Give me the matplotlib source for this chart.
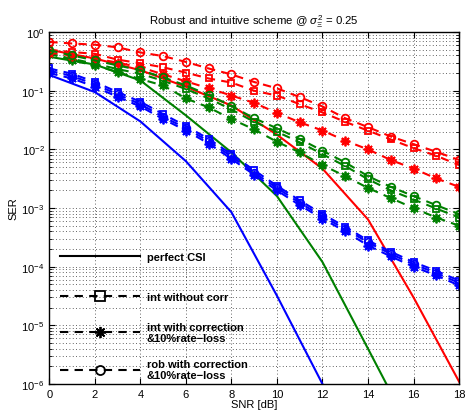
import numpy as np
import matplotlib
matplotlib.use("Agg")
import matplotlib.pyplot as plt
from matplotlib.lines import Line2D

plt.rcParams['font.family'] = ['Liberation Sans', 'DejaVu Sans']
plt.rcParams['mathtext.fontset'] = 'custom'
plt.rcParams['mathtext.rm'] = 'Liberation Sans'
plt.rcParams['mathtext.it'] = 'Liberation Sans:italic'
plt.rcParams['lines.dashed_pattern'] = [4.0, 3.0]

# SNR grids
snr = np.arange(0, 19)
snr_even = np.arange(0, 19, 2)

# perfect CSI (solid)
blue_perfect = [0.186, 0.095, 0.030, 0.0063, 8.5e-4, 3.2e-5, 1.0e-6]
green_perfect = [0.38, 0.28, 0.15, 0.038, 0.0089, 0.0016, 1.2e-4, 4.0e-6, 1.3e-7]
red_perfect = [0.50, 0.355, 0.224, 0.117, 0.056, 0.0178, 0.0047, 6.4e-4, 3.0e-5, 1.1e-6]

# int without corr (squares)
blue_sq = [0.24, 0.195, 0.141, 0.095, 0.065, 0.040, 0.025, 0.0151, 0.0083, 0.0044,
           0.0024, 0.00135, 7.9e-4, 4.8e-4, 2.8e-4, 1.8e-4, 1.2e-4, 8.5e-5, 5.8e-5]
green_sq = [0.43, 0.35, 0.29, 0.234, 0.195, 0.148, 0.107, 0.074, 0.048, 0.0295,
            0.020, 0.0132, 0.0083, 0.0052, 0.0031, 0.0020, 0.0014, 9.8e-4, 6.9e-4]
red_sq = [0.50, 0.457, 0.427, 0.339, 0.295, 0.251, 0.204, 0.162, 0.138, 0.100,
          0.083, 0.059, 0.0427, 0.0295, 0.0209, 0.0148, 0.0105, 0.0078, 0.0054]

# int with correction & 10% rate-loss (stars)
blue_st = [0.20, 0.162, 0.117, 0.079, 0.054, 0.033, 0.021, 0.0126, 0.0069, 0.0037,
           0.0020, 0.00112, 6.6e-4, 4.0e-4, 2.3e-4, 1.5e-4, 1.0e-4, 7.1e-5, 4.8e-5]
green_st = [0.43, 0.33, 0.27, 0.209, 0.158, 0.123, 0.074, 0.052, 0.033, 0.0219,
            0.0135, 0.0089, 0.0054, 0.0035, 0.0022, 0.00148, 0.0010, 6.9e-4, 5.0e-4]
red_st = [0.447, 0.398, 0.355, 0.302, 0.251, 0.191, 0.145, 0.110, 0.083, 0.062,
          0.042, 0.029, 0.021, 0.0141, 0.0100, 0.0066, 0.0047, 0.0032, 0.0023]

# rob with correction & 10% rate-loss (circles)
blue_ci = [0.22, 0.178, 0.129, 0.087, 0.059, 0.036, 0.023, 0.0138, 0.0076, 0.0040,
           0.0022, 0.00123, 7.2e-4, 4.4e-4, 2.6e-4, 1.65e-4, 1.1e-4, 7.8e-5, 5.3e-5]
green_ci = [0.49, 0.40, 0.33, 0.27, 0.224, 0.170, 0.123, 0.085, 0.055, 0.034,
            0.0229, 0.0151, 0.0095, 0.0060, 0.0035, 0.0023, 0.0016, 0.00112, 7.9e-4]
red_ci = [0.68, 0.64, 0.61, 0.55, 0.45, 0.39, 0.31, 0.24, 0.19, 0.141,
          0.110, 0.078, 0.054, 0.034, 0.024, 0.0166, 0.0123, 0.0091, 0.0066]

colors = ['#0000ff', '#008000', '#ff0000']
lw = 1.5
ms = 5
star = (8, 2, 0)

fig = plt.figure(figsize=(4.67, 4.14), dpi=100)
ax = fig.add_axes([0.1056, 0.070, 0.8774, 0.850])

for c, y in zip(colors, [blue_perfect, green_perfect, red_perfect]):
    ax.semilogy(snr_even[:len(y)], y, '-', color=c, lw=lw)
for c, y in zip(colors, [blue_sq, green_sq, red_sq]):
    ax.semilogy(snr, y, '--', color=c, lw=lw, marker='s', ms=ms, mfc='none', mew=1.3)
for c, y in zip(colors, [blue_st, green_st, red_st]):
    ax.semilogy(snr, y, '--', color=c, lw=lw, marker=star, ms=ms + 2, mec=c, mew=1.3)
for c, y in zip(colors, [blue_ci, green_ci, red_ci]):
    ax.semilogy(snr, y, '--', color=c, lw=lw, marker='o', ms=ms + 0.5, mfc='none', mew=1.3)

ax.set_xlim(0, 18)
ax.set_ylim(1e-6, 1)
ax.set_xticks(np.arange(0, 19, 2))
ax.tick_params(which='both', direction='in', top=True, right=True, labelsize=8)
ax.tick_params(which='major', length=4)
ax.tick_params(which='minor', length=2)
grid_style = dict(linestyle=(0, (1, 3)), color='#303030', lw=0.6)
ax.grid(True, which='major', **grid_style)
ax.grid(True, which='minor', axis='y', **grid_style)
for s in ax.spines.values():
    s.set_linewidth(1.0)

ax.set_xlabel('SNR [dB]', fontsize=8, labelpad=0)
ax.set_ylabel('SER', fontsize=8, labelpad=2)
ax.set_title(r'Robust and intuitive scheme @ $\sigma_{\Xi}^{2}$ = 0.25', fontsize=8.2, pad=6)

handles = [
    Line2D([], [], color='k', lw=lw, ls='-'),
    Line2D([], [], color='k', lw=lw, ls='--', marker='s', ms=6.5, mfc='none', mew=1.3),
    Line2D([], [], color='k', lw=lw, ls='--', marker=star, ms=8, mew=1.3),
    Line2D([], [], color='k', lw=lw, ls='--', marker='o', ms=6.5, mfc='none', mew=1.3),
]
labels = ['perfect CSI', 'int without corr',
          'int with correction\n&10%rate\u2212loss',
          'rob with correction\n&10%rate\u2212loss']
leg_kw = dict(loc='center left', frameon=False, borderpad=0, borderaxespad=0,
              handlelength=7.2, handletextpad=0.6, numpoints=1,
              prop={'weight': 'bold', 'size': 8})
# legend split in two so the entries keep MATLAB's even spacing
leg_top = ax.legend(handles[:2], labels[:2], bbox_to_anchor=(0.026, 0.304),
                    labelspacing=2.65, **leg_kw)
ax.add_artist(leg_top)
ax.legend(handles[2:], labels[2:], bbox_to_anchor=(0.026, 0.094),
          labelspacing=1.4, **leg_kw)

fig.savefig('out.png', dpi=100)
